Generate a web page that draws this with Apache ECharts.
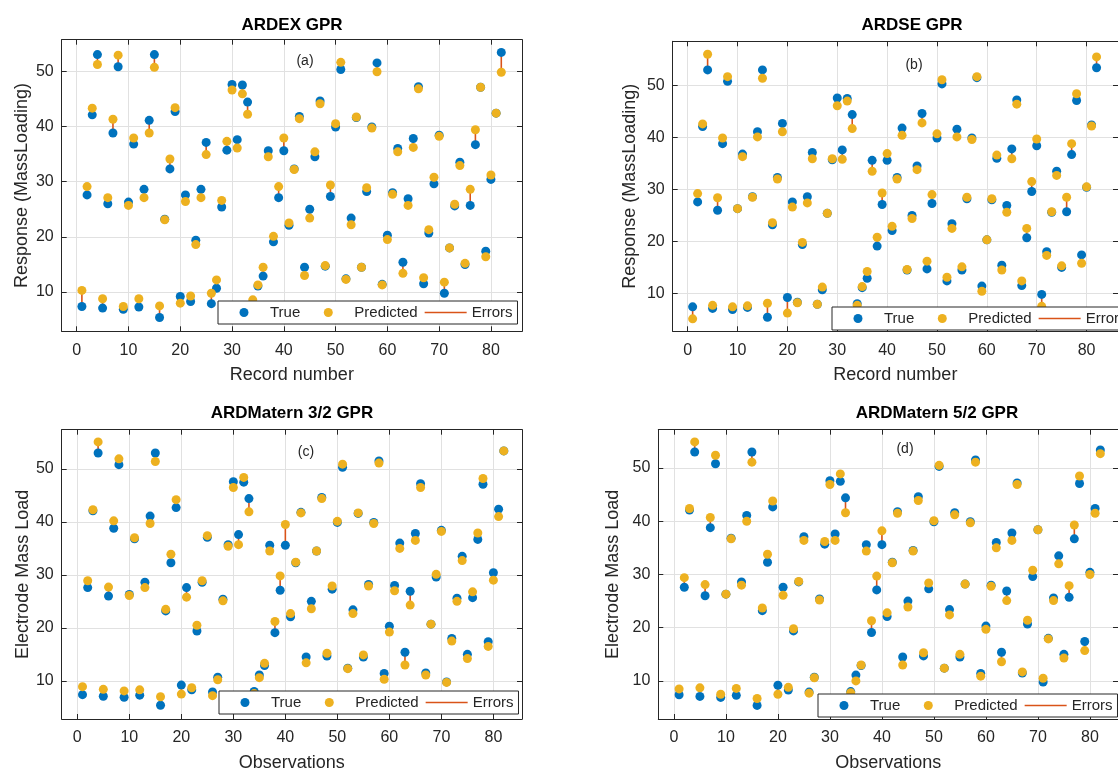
<!DOCTYPE html>
<html>
<head>
<meta charset="utf-8">
<title>GPR predictions</title>
<script src="https://cdn.jsdelivr.net/npm/echarts@6/dist/echarts.min.js"></script>
<style>
html, body { margin: 0; padding: 0; background: #fff; }
#chart { width: 1118px; height: 773px; }
</style>
</head>
<body>
<div id="chart"></div>
<script>
// record numbers (x)
var records = [1, 2, 3, 4, 5, 6, 7, 8, 9, 10, 11, 12, 13, 14, 15, 16, 17, 18, 19, 20,
    21, 22, 23, 24, 25, 26, 27, 28, 29, 30, 31, 32, 33, 34, 35, 36, 37, 38, 39, 40,
    41, 42, 43, 44, 45, 46, 47, 48, 49, 50, 51, 52, 53, 54, 55, 56, 57, 58, 59, 60,
    61, 62, 63, 64, 65, 66, 67, 68, 69, 70, 71, 72, 73, 74, 75, 76, 77, 78, 79, 80, 81, 82];
// measured mass loading (same in all four panels)
var trueLoad = [7.4, 27.6, 42.1, 53.0, 7.1, 26.0, 38.8, 50.8, 6.9, 26.3,
    36.8, 7.3, 28.6, 41.1, 53.0, 5.4, 23.2, 32.3, 42.7, 9.2,
    27.6, 8.3, 19.4, 28.6, 37.1, 7.9, 10.7, 25.4, 35.7, 47.6,
    37.6, 47.5, 44.4, 8.0, 11.1, 12.9, 35.6, 19.1, 27.1, 35.6,
    22.1, 32.3, 41.8, 14.5, 25.0, 34.5, 44.6, 14.7, 27.3, 39.9,
    50.3, 12.4, 23.4, 41.6, 14.5, 28.2, 39.9, 51.5, 11.4, 20.3,
    28.0, 36.0, 15.4, 26.9, 37.8, 47.2, 11.5, 20.7, 29.6, 38.4,
    9.8, 18.0, 25.6, 33.5, 15.0, 25.7, 36.7, 47.1, 17.4, 30.4,
    42.4, 53.4];
var predARDEX = [10.3, 29.1, 43.3, 51.2, 8.8, 27.1, 41.3, 52.9, 7.4, 25.7,
    37.9, 8.8, 27.1, 38.8, 50.7, 7.5, 23.1, 34.1, 43.4, 8.0,
    26.4, 9.3, 18.6, 27.1, 34.9, 9.8, 12.2, 26.6, 37.3, 46.6,
    36.1, 45.9, 42.2, 8.6, 11.3, 14.5, 34.5, 20.1, 29.1, 37.9,
    22.5, 32.2, 41.4, 13.0, 23.4, 35.4, 44.1, 14.8, 29.4, 40.5,
    51.6, 12.3, 22.2, 41.7, 14.5, 28.9, 39.7, 49.9, 11.3, 19.5,
    27.7, 35.4, 13.4, 25.7, 36.2, 46.8, 12.6, 21.3, 30.8, 38.2,
    11.8, 18.0, 25.9, 32.9, 15.2, 28.6, 39.4, 47.1, 16.4, 31.2,
    42.4, 49.8];
var predARDSE = [5.1, 29.2, 42.6, 56.0, 7.7, 28.4, 39.9, 51.7, 7.4, 26.3,
    36.3, 7.6, 28.5, 40.1, 51.4, 8.1, 23.6, 32.0, 41.1, 6.2,
    26.6, 8.2, 19.8, 27.4, 35.9, 7.9, 11.2, 25.4, 35.9, 46.1,
    35.8, 47.0, 41.7, 7.7, 11.3, 14.2, 33.5, 20.8, 29.3, 36.9,
    22.9, 32.0, 40.4, 14.6, 24.4, 33.8, 42.8, 16.2, 29.0, 40.7,
    51.1, 13.1, 22.5, 40.1, 15.1, 28.5, 39.6, 51.7, 10.4, 20.3,
    28.2, 36.6, 14.5, 25.6, 35.9, 46.4, 12.4, 22.5, 31.5, 39.7,
    7.5, 17.3, 25.7, 32.7, 15.3, 28.5, 38.8, 48.4, 15.8, 30.5,
    42.2, 55.5];
var predMatern32 = [8.9, 28.9, 42.3, 55.1, 8.4, 27.7, 40.2, 51.9, 8.1, 26.1,
    37.0, 8.3, 27.6, 39.7, 51.4, 7.0, 23.5, 33.9, 44.2, 7.5,
    25.8, 8.7, 20.5, 28.9, 37.4, 7.2, 10.2, 25.1, 35.4, 46.5,
    35.7, 48.4, 41.9, 7.6, 10.6, 13.3, 34.5, 21.2, 29.8, 39.5,
    22.7, 32.4, 41.7, 13.4, 23.6, 34.5, 44.4, 15.2, 27.9, 40.1,
    50.9, 12.3, 22.7, 41.7, 14.9, 27.9, 39.7, 51.1, 10.3, 19.2,
    27.0, 35.0, 13.0, 24.3, 36.5, 46.5, 11.1, 20.7, 30.1, 38.2,
    9.7, 17.5, 25.0, 32.7, 14.2, 26.8, 37.9, 48.2, 16.5, 29.0,
    41.0, 53.4];
var predMatern52 = [8.5, 29.4, 42.4, 54.9, 8.7, 28.1, 40.7, 52.4, 7.5, 26.3,
    36.7, 8.6, 28.0, 40.0, 51.1, 6.7, 23.7, 33.8, 43.8, 7.5,
    26.1, 8.8, 19.8, 28.7, 36.4, 7.7, 10.6, 25.2, 36.2, 46.9,
    36.4, 48.9, 41.6, 7.8, 10.0, 13.0, 34.4, 21.3, 29.7, 38.2,
    22.8, 32.2, 41.5, 13.0, 23.9, 34.4, 43.9, 15.3, 28.4, 40.1,
    50.5, 12.4, 22.4, 41.2, 15.0, 28.2, 39.7, 51.1, 10.9, 19.7,
    27.8, 35.0, 13.6, 25.1, 36.4, 46.9, 11.7, 21.4, 30.8, 38.4,
    10.5, 17.9, 25.1, 32.0, 14.3, 27.9, 39.3, 48.5, 15.7, 30.0,
    41.5, 52.7];
var xTickValues = [0, 10, 20, 30, 40, 50, 60, 70, 80];
var yTickValues = [10, 20, 30, 40, 50];

var ink = '#262626';
// legend icons: dot centred in a 42px wide slot, short line for the error stems
var dotIcon = 'path://M0,4.5L0,4.5M16.5,4.5A4.5,4.5,0,1,1,25.5,4.5A4.5,4.5,0,1,1,16.5,4.5ZM42,4.5L42,4.5';
var stemIcon = 'path://M0,0L42,0L42,1.6L0,1.6Z';

var panels = [
    {pred: predARDEX, title: 'ARDEX GPR', tag: '(a)', xName: 'Record number', yName: 'Response (MassLoading)',
     left: 61.7, top: 39.7, width: 460.3, height: 291.6, xMin: -2.9, xMax: 86, yMin: 2.9, yMax: 55.7,
     xGap: 35, yGap: 31, titleX: 292, titleY: 25, tagX: 305, tagY: 61, legX: 218, legY: 301},
    {pred: predARDSE, title: 'ARDSE GPR', tag: '(b)', xName: 'Record number', yName: 'Response (MassLoading)',
     left: 672.7, top: 41.3, width: 460, height: 290, xMin: -3, xMax: 86.3, yMin: 2.7, yMax: 58.5,
     xGap: 35, yGap: 34, titleX: 912, titleY: 25, tagX: 914, tagY: 65, legX: 832, legY: 307},
    {pred: predMatern32, title: 'ARDMatern 3/2 GPR', tag: '(c)', xName: 'Observations', yName: 'Electrode Mass Load',
     left: 61.7, top: 429.7, width: 460.3, height: 292, xMin: -3, xMax: 85.5, yMin: 2.8, yMax: 57.4,
     xGap: 35, yGap: 27, titleX: 292, titleY: 413, tagX: 306, tagY: 452, legX: 219, legY: 691},
    {pred: predMatern52, title: 'ARDMatern 5/2 GPR', tag: '(d)', xName: 'Observations', yName: 'Electrode Mass Load',
     left: 658.3, top: 429.7, width: 460.3, height: 292, xMin: -3, xMax: 85.4, yMin: 2.85, yMax: 57.2,
     xGap: 35, yGap: 36, titleX: 937, titleY: 413, tagX: 905, tagY: 449, legX: 818, legY: 694}
];

var grids = [], xAxes = [], yAxes = [], series = [], legends = [], texts = [];

panels.forEach(function (p, k) {
    grids.push({left: p.left, top: p.top, width: p.width, height: p.height});

    var tick = {inside: true, length: 5, lineStyle: {color: ink}};
    var line = {show: true, onZero: false, lineStyle: {color: ink, width: 1}};

    xAxes.push({
        type: 'value', gridIndex: k, position: 'bottom', min: p.xMin, max: p.xMax,
        name: p.xName, nameLocation: 'middle', nameGap: p.xGap,
        nameTextStyle: {fontSize: 18, color: ink},
        axisLine: line,
        axisTick: Object.assign({customValues: xTickValues}, tick),
        axisLabel: {customValues: xTickValues, fontSize: 16, color: ink, margin: 11},
        splitLine: {show: true, lineStyle: {color: '#e1e1e1'}}
    });
    xAxes.push({
        type: 'value', gridIndex: k, position: 'top', min: p.xMin, max: p.xMax,
        axisLine: line,
        axisTick: Object.assign({customValues: xTickValues}, tick),
        axisLabel: {show: false},
        splitLine: {show: false}
    });
    yAxes.push({
        type: 'value', gridIndex: k, position: 'left', min: p.yMin, max: p.yMax,
        name: p.yName, nameLocation: 'middle', nameGap: p.yGap, nameRotate: 90,
        nameTextStyle: {fontSize: 18, color: ink},
        axisLine: line,
        axisTick: Object.assign({customValues: yTickValues}, tick),
        axisLabel: {customValues: yTickValues, fontSize: 16, color: ink, margin: 8},
        splitLine: {show: true, lineStyle: {color: '#e1e1e1'}}
    });
    yAxes.push({
        type: 'value', gridIndex: k, position: 'right', min: p.yMin, max: p.yMax,
        axisLine: line,
        axisTick: Object.assign({customValues: yTickValues}, tick),
        axisLabel: {show: false},
        splitLine: {show: false}
    });

    series.push({
        name: 'True', type: 'scatter', xAxisIndex: 2 * k, yAxisIndex: 2 * k,
        symbolSize: 9, itemStyle: {color: '#0072BD', opacity: 1},
        data: records.map(function (r, i) { return [r, trueLoad[i]]; })
    });
    series.push({
        name: 'Predicted', type: 'scatter', xAxisIndex: 2 * k, yAxisIndex: 2 * k,
        symbolSize: 9, itemStyle: {color: '#EDB120', opacity: 1},
        data: records.map(function (r, i) { return [r, p.pred[i]]; })
    });
    series.push({
        name: 'Errors', type: 'custom', xAxisIndex: 2 * k, yAxisIndex: 2 * k,
        itemStyle: {color: '#D95319'},
        encode: {x: 0, y: [1, 2]},
        renderItem: function (params, api) {
            var a = api.coord([api.value(0), api.value(1)]);
            var b = api.coord([api.value(0), api.value(2)]);
            return {
                type: 'line',
                shape: {x1: a[0], y1: a[1], x2: b[0], y2: b[1]},
                style: {stroke: '#D95319', lineWidth: 1.6}
            };
        },
        data: records.map(function (r, i) { return [r, trueLoad[i], p.pred[i]]; })
    });

    // width set so the legend stays on one row even where it runs past the page edge
    legends.push({
        left: p.legX, top: p.legY, width: 400, orient: 'horizontal',
        itemWidth: 42, itemHeight: 9, itemGap: 7, padding: [4, 5, 4, 5],
        borderColor: ink, borderWidth: 1, borderRadius: 0, backgroundColor: '#fff',
        selectedMode: false,
        textStyle: {fontSize: 15, color: ink},
        data: [
            {name: 'True', icon: dotIcon, itemStyle: {color: '#0072BD'}},
            {name: 'Predicted', icon: dotIcon, itemStyle: {color: '#EDB120'}},
            {name: 'Errors', icon: stemIcon, itemStyle: {color: '#D95319'}}
        ]
    });

    texts.push({
        type: 'text', x: p.titleX, y: p.titleY, z: 10,
        style: {text: p.title, font: 'bold 17px "Liberation Sans", Arial, sans-serif', fill: '#000',
                textAlign: 'center', align: 'center', textVerticalAlign: 'middle', verticalAlign: 'middle'}
    });
    texts.push({
        type: 'text', x: p.tagX, y: p.tagY, z: 10,
        style: {text: p.tag, font: '14px "Liberation Sans", Arial, sans-serif', fill: ink,
                textAlign: 'center', align: 'center', textVerticalAlign: 'middle', verticalAlign: 'middle'}
    });
});

var myChart = echarts.init(document.getElementById('chart'));
var option = {
    backgroundColor: '#fff',
    animation: false,
    textStyle: {fontFamily: '"Liberation Sans", Arial, sans-serif'},
    grid: grids,
    xAxis: xAxes,
    yAxis: yAxes,
    legend: legends,
    graphic: texts,
    series: series
};
myChart.setOption(option);
</script>
</body>
</html>
